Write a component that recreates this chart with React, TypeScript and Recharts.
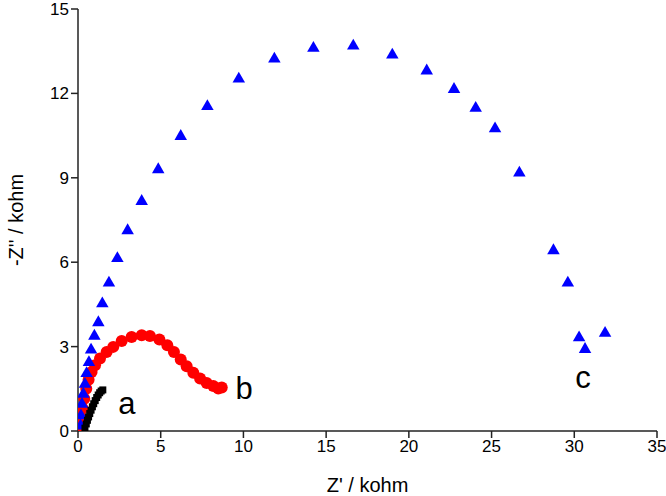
import React from "react";
import {
  ScatterChart,
  Scatter,
  XAxis,
  YAxis,
  ReferenceDot,
} from "recharts";

// Nyquist data, kohm: [Z', -Z'']
const seriesA = [
  [0.42, 0.1], [0.5, 0.25], [0.57, 0.38], [0.64, 0.5], [0.71, 0.62],
  [0.79, 0.74], [0.87, 0.86], [0.95, 0.97], [1.04, 1.08], [1.13, 1.19],
  [1.22, 1.28], [1.31, 1.36], [1.4, 1.42], [1.5, 1.46],
];
const seriesB = [
  [0.12, 0.15], [0.2, 0.45], [0.28, 0.8], [0.38, 1.15], [0.5, 1.5],
  [0.64, 1.82], [0.82, 2.1], [1.03, 2.34], [1.33, 2.58], [1.73, 2.81],
  [2.13, 2.99], [2.64, 3.2], [3.24, 3.34], [3.85, 3.4], [4.35, 3.38],
  [4.92, 3.25], [5.4, 3.05], [5.8, 2.81], [6.21, 2.54], [6.57, 2.3],
  [6.97, 2.07], [7.38, 1.87], [7.78, 1.71], [8.18, 1.6], [8.48, 1.51],
  [8.69, 1.55],
];
const seriesC = [
  [0.16, 0.21], [0.18, 0.57], [0.24, 0.98], [0.32, 1.34], [0.42, 1.69],
  [0.52, 2.07], [0.66, 2.46], [0.79, 2.91], [0.99, 3.4], [1.23, 3.88],
  [1.47, 4.55], [1.87, 5.29], [2.38, 6.16], [3.0, 7.15], [3.85, 8.19],
  [4.85, 9.32], [6.21, 10.5], [7.82, 11.56], [9.72, 12.54], [11.87, 13.25],
  [14.23, 13.63], [16.64, 13.71], [19.0, 13.39], [21.08, 12.83], [22.73, 12.17],
  [24.04, 11.5], [25.21, 10.77], [26.68, 9.2], [28.74, 6.44], [29.61, 5.29],
  [30.29, 3.34], [30.65, 2.93], [31.86, 3.5],
];
const xTicks = [0, 5, 10, 15, 20, 25, 30, 35];
const yTicks = [0, 3, 6, 9, 12, 15];
const curveLabels = [
  { text: "a", x: 2.96, y: 0.99 },
  { text: "b", x: 10.04, y: 1.52 },
  { text: "c", x: 30.53, y: 1.91 },
];

const toPoints = (arr: number[][]) => arr.map(([x, y]) => ({ x, y }));

const FONT = "'Liberation Sans', Arial, sans-serif";

const Square = (p: any) => (
  <rect x={p.cx - 3.5} y={p.cy - 3.5} width={7} height={7} fill="#000" />
);
const Dot = (p: any) => <circle cx={p.cx} cy={p.cy} r={6} fill="#ff0000" />;
const Tri = (p: any) => {
  const s = 12.5;
  const h = s * 0.866;
  return (
    <polygon
      points={`${p.cx},${p.cy - h * 0.6} ${p.cx - s / 2},${p.cy + h * 0.4} ${p.cx + s / 2},${p.cy + h * 0.4}`}
      fill="#0000ff"
    />
  );
};

const tickStyle = { fill: "#000", fontSize: 17, fontFamily: FONT };
const titleStyle = { fill: "#000", fontSize: 20, fontFamily: FONT };

export default function App() {
  return (
    <div style={{ position: "absolute", left: 0, top: 0, background: "#fff" }}>
      <ScatterChart
        width={666}
        height={496}
        margin={{ top: 9, right: 9, bottom: 0, left: 0 }}
      >
        <XAxis
          type="number"
          dataKey="x"
          domain={[0, 35]}
          ticks={xTicks}
          interval={0}
          allowDataOverflow
          height={65}
          stroke="#222"
          strokeWidth={1.5}
          tickSize={7}
          tick={tickStyle}
          label={{
            value: "Z' / kohm",
            position: "insideBottom",
            offset: 4,
            style: titleStyle,
          }}
        />
        <YAxis
          type="number"
          dataKey="y"
          domain={[0, 15]}
          ticks={yTicks}
          interval={0}
          allowDataOverflow
          width={78}
          stroke="#222"
          strokeWidth={1.5}
          tickSize={7}
          tick={tickStyle}
          label={{
            value: "-Z'' / kohm",
            angle: -90,
            position: "insideLeft",
            offset: 16,
            style: { ...titleStyle, textAnchor: "middle" },
          }}
        />
        <Scatter data={toPoints(seriesB)} shape={Dot} isAnimationActive={false} />
        <Scatter data={toPoints(seriesC)} shape={Tri} isAnimationActive={false} />
        <Scatter data={toPoints(seriesA)} shape={Square} isAnimationActive={false} />
        {curveLabels.map((l) => (
          <ReferenceDot
            key={l.text}
            x={l.x}
            y={l.y}
            r={0}
            stroke="none"
            label={{
              value: l.text,
              position: "center",
              style: { fill: "#000", fontSize: 31, fontFamily: FONT },
            }}
          />
        ))}
      </ScatterChart>
    </div>
  );
}
